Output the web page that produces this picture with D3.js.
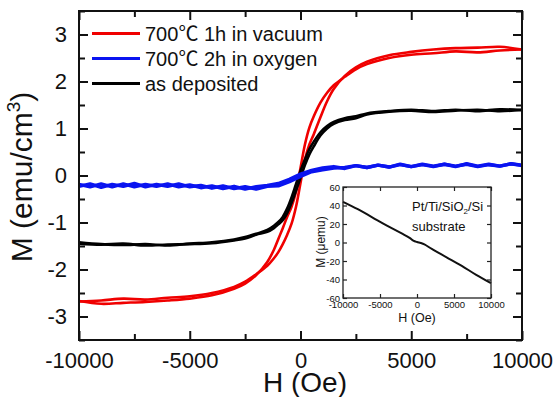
<!DOCTYPE html>
<html>
<head>
<meta charset="utf-8">
<script src="https://cdn.jsdelivr.net/npm/d3@7"></script>
<style>
  body { margin: 0; background: #fff; }
  svg { display: block; }
  text { font-family: "Liberation Sans", Arial, "Noto Sans CJK SC", sans-serif; fill: #111; }
</style>
</head>
<body>
<div id="chart"></div>
<script>
// field grid (Oe) for the loop branches
const fieldH = [-10000, -9000, -8000, -7000, -6000, -5000, -4000, -3000, -2500, -2000, -1500, -1200, -1000,
  -800, -600, -400, -200, 0, 200, 400, 600, 900, 1200, 1500, 2000, 2500, 3000, 4000, 5000, 6000, 7000, 8000, 9000, 10000];

// 700C 1h in vacuum
const vacuumUp = [-2.68, -2.66, -2.62, -2.64, -2.60, -2.57, -2.50, -2.37, -2.26, -2.10, -1.92, -1.76, -1.63,
  -1.46, -1.26, -1.02, -0.66, -0.16, 0.34, 0.66, 0.88, 1.24, 1.58, 1.84, 2.12, 2.30, 2.42, 2.56, 2.63, 2.68, 2.71, 2.72, 2.74, 2.68];
const vacuumDown = [-2.67, -2.73, -2.71, -2.69, -2.66, -2.62, -2.55, -2.41, -2.30, -2.12, -1.84, -1.58, -1.35,
  -1.12, -0.88, -0.66, -0.34, 0.16, 0.66, 1.02, 1.26, 1.55, 1.76, 1.92, 2.10, 2.26, 2.37, 2.50, 2.57, 2.60, 2.64, 2.62, 2.66, 2.68];

// as deposited
const depUp = [-1.45, -1.47, -1.45, -1.49, -1.47, -1.46, -1.44, -1.38, -1.34, -1.26, -1.20, -1.12, -1.04,
  -0.95, -0.80, -0.58, -0.32, -0.05, 0.22, 0.45, 0.62, 0.85, 1.00, 1.10, 1.18, 1.22, 1.30, 1.36, 1.38, 1.35, 1.38, 1.40, 1.37, 1.40];
const depDown = [-1.42, -1.46, -1.48, -1.46, -1.49, -1.45, -1.42, -1.36, -1.31, -1.24, -1.16, -1.07, -0.99,
  -0.88, -0.70, -0.46, -0.18, 0.10, 0.34, 0.56, 0.72, 0.92, 1.05, 1.14, 1.22, 1.26, 1.32, 1.37, 1.40, 1.37, 1.40, 1.37, 1.41, 1.39];

// 700C 2h in oxygen (500 Oe steps, noisy)
const oxyH = [-10000, -9500, -9000, -8500, -8000, -7500, -7000, -6500, -6000, -5500, -5000, -4500, -4000, -3500,
  -3000, -2500, -2000, -1500, -1000, -500, 0, 500, 1000, 1500, 2000, 2500, 3000, 3500, 4000, 4500, 5000,
  5500, 6000, 6500, 7000, 7500, 8000, 8500, 9000, 9500, 10000];
const oxyUp = [-0.23, -0.18, -0.25, -0.19, -0.23, -0.17, -0.24, -0.19, -0.23, -0.18, -0.24, -0.21, -0.27, -0.22,
  -0.28, -0.24, -0.29, -0.23, -0.22, -0.13, -0.02, 0.08, 0.12, 0.16, 0.17, 0.21, 0.17, 0.22, 0.18, 0.23, 0.19,
  0.23, 0.19, 0.24, 0.20, 0.24, 0.19, 0.23, 0.20, 0.25, 0.21];
const oxyDown = [-0.19, -0.24, -0.18, -0.24, -0.18, -0.24, -0.19, -0.23, -0.18, -0.24, -0.20, -0.26, -0.22, -0.28,
  -0.23, -0.29, -0.24, -0.21, -0.17, -0.08, 0.03, 0.11, 0.16, 0.19, 0.15, 0.21, 0.17, 0.22, 0.18, 0.24, 0.19,
  0.24, 0.20, 0.24, 0.19, 0.25, 0.20, 0.24, 0.20, 0.25, 0.22];

// inset: bare substrate
const subH = [-10000, -8000, -6000, -4000, -2000, -1000, -500, 0, 500, 1000, 2000, 4000, 6000, 8000, 10000];
const subM = [44, 36, 27, 18, 9.5, 5, 2, 0.5, -0.5, -2, -7, -16, -25, -35, -44];

const xTicks = [-10000, -5000, 0, 5000, 10000];
const xMinor = [-7500, -2500, 2500, 7500];
const yTicks = [-3, -2, -1, 0, 1, 2, 3];
const yMinor = [-3.5, -2.5, -1.5, -0.5, 0.5, 1.5, 2.5, 3.5];
const insetYTicks = [-60, -40, -20, 0, 20, 40, 60];

const legendItems = [
  { label: "700℃ 1h in vacuum", color: "#f00000" },
  { label: "700℃ 2h in oxygen", color: "#0a14f0" },
  { label: "as deposited", color: "#000" }
];

const W = 554, H = 397;
const plot = { left: 79, right: 522, top: 11, bottom: 340 };

const svg = d3.select("#chart").append("svg")
  .attr("width", W)
  .attr("height", H);

const x = d3.scaleLinear().domain([-10000, 10000]).range([plot.left, plot.right]);
const y = d3.scaleLinear().domain([-3.5, 3.5]).range([plot.bottom, plot.top]);

// curves
const smooth = d3.line()
  .x(d => x(d[0]))
  .y(d => y(d[1]))
  .curve(d3.curveCatmullRom);
const jagged = d3.line()
  .x(d => x(d[0]))
  .y(d => y(d[1]));

const series = [
  { h: fieldH, m: vacuumUp, color: "#f00000", w: 2.6, gen: smooth },
  { h: fieldH, m: vacuumDown, color: "#f00000", w: 2.6, gen: smooth },
  { h: fieldH, m: depUp, color: "#000", w: 2.6, gen: smooth },
  { h: fieldH, m: depDown, color: "#000", w: 2.6, gen: smooth },
  { h: oxyH, m: oxyUp, color: "#0a14f0", w: 3.4, gen: jagged },
  { h: oxyH, m: oxyDown, color: "#0a14f0", w: 3.4, gen: jagged }
];

svg.append("g").selectAll("path")
  .data(series)
  .join("path")
    .attr("fill", "none")
    .attr("stroke", d => d.color)
    .attr("stroke-width", d => d.w)
    .attr("stroke-linejoin", "round")
    .attr("d", d => d.gen(d.h.map((v, i) => [v, d.m[i]])));

const plain = d => String(d);

// axes, ticks inward on every side
function tickAxis(axis, pos, values, size, labels) {
  const g = svg.append("g")
    .attr("transform", pos)
    .call(axis.tickValues(values).tickSizeInner(-size).tickSizeOuter(0)
      .tickPadding(12)
      .tickFormat(labels ? plain : ""));
  g.select(".domain").remove();
  g.selectAll("line").attr("stroke", "#111").attr("stroke-width", 2);
  g.selectAll("text").attr("font-size", 22).attr("fill", "#111")
    .style("font-family", "'Liberation Sans', Arial, sans-serif");
  return g;
}

tickAxis(d3.axisBottom(x), `translate(0,${plot.bottom})`, xTicks, 9, true);
tickAxis(d3.axisBottom(x), `translate(0,${plot.bottom})`, xMinor, 6, false);
tickAxis(d3.axisTop(x), `translate(0,${plot.top})`, xTicks, 9, false);
tickAxis(d3.axisTop(x), `translate(0,${plot.top})`, xMinor, 6, false);
tickAxis(d3.axisLeft(y), `translate(${plot.left},0)`, yTicks, 9, true);
tickAxis(d3.axisLeft(y), `translate(${plot.left},0)`, yMinor, 6, false);
tickAxis(d3.axisRight(y), `translate(${plot.right},0)`, yTicks, 9, false);
tickAxis(d3.axisRight(y), `translate(${plot.right},0)`, yMinor, 6, false);

svg.append("rect")
  .attr("x", plot.left).attr("y", plot.top)
  .attr("width", plot.right - plot.left).attr("height", plot.bottom - plot.top)
  .attr("fill", "none").attr("stroke", "#111").attr("stroke-width", 2);

// axis titles
svg.append("text")
  .attr("x", 305).attr("y", 392)
  .attr("text-anchor", "middle")
  .attr("font-size", 28)
  .text("H (Oe)");

const yTitle = svg.append("text")
  .attr("transform", "translate(32,177) rotate(-90)")
  .attr("text-anchor", "middle")
  .attr("font-size", 30);
yTitle.append("tspan").text("M (emu/cm");
yTitle.append("tspan").attr("font-size", 19).attr("dy", -12).text("3");
yTitle.append("tspan").attr("dy", 12).text(")");

// legend
const legend = svg.append("g").selectAll("g")
  .data(legendItems)
  .join("g")
    .attr("transform", (d, i) => `translate(92,${33.5 + i * 25})`);
legend.append("line")
  .attr("x1", 0).attr("x2", 48)
  .attr("stroke", d => d.color).attr("stroke-width", 3);
const legendText = legend.append("text")
  .attr("x", 53).attr("dy", "0.36em")
  .attr("font-size", 20);
legendText.each(function (d) {
  const parts = d.label.split("℃");
  const t = d3.select(this);
  t.append("tspan").text(parts[0]);
  if (parts.length > 1) {
    t.append("tspan").style("font-family", "'Noto Sans CJK SC'").text("℃");
    t.append("tspan").text(parts[1]);
  }
});

// inset
const inset = { left: 343, right: 491, top: 187, bottom: 298 };
const ix = d3.scaleLinear().domain([-10000, 10000]).range([inset.left, inset.right]);
const iy = d3.scaleLinear().domain([-60, 60]).range([inset.bottom, inset.top]);

svg.append("rect")
  .attr("x", inset.left).attr("y", inset.top)
  .attr("width", inset.right - inset.left).attr("height", inset.bottom - inset.top)
  .attr("fill", "#fff");

function insetAxis(axis, pos, values, labels) {
  const g = svg.append("g")
    .attr("transform", pos)
    .call(axis.tickValues(values).tickSizeInner(-4).tickSizeOuter(0)
      .tickPadding(3)
      .tickFormat(labels ? plain : ""));
  g.select(".domain").remove();
  g.selectAll("line").attr("stroke", "#222").attr("stroke-width", 1.2);
  g.selectAll("text").attr("font-size", 9.5).attr("fill", "#222")
    .style("font-family", "'Liberation Sans', Arial, sans-serif");
}

insetAxis(d3.axisBottom(ix), `translate(0,${inset.bottom})`, xTicks, true);
insetAxis(d3.axisTop(ix), `translate(0,${inset.top})`, xTicks, false);
insetAxis(d3.axisLeft(iy), `translate(${inset.left},0)`, insetYTicks, true);
insetAxis(d3.axisRight(iy), `translate(${inset.right},0)`, insetYTicks, false);

const iline = d3.line().x(d => ix(d[0])).y(d => iy(d[1])).curve(d3.curveCatmullRom);
svg.append("path")
  .attr("fill", "none").attr("stroke", "#111").attr("stroke-width", 2)
  .attr("d", iline(subH.map((v, i) => [v, subM[i]])));

svg.append("rect")
  .attr("x", inset.left).attr("y", inset.top)
  .attr("width", inset.right - inset.left).attr("height", inset.bottom - inset.top)
  .attr("fill", "none").attr("stroke", "#222").attr("stroke-width", 1.3);

svg.append("text")
  .attr("x", 417).attr("y", 322)
  .attr("text-anchor", "middle")
  .attr("font-size", 12.5)
  .text("H (Oe)");

svg.append("text")
  .attr("transform", "translate(325,242) rotate(-90)")
  .attr("text-anchor", "middle")
  .attr("font-size", 12)
  .text("M (μemu)");

const sub = svg.append("text")
  .attr("x", 412).attr("y", 211)
  .attr("font-size", 13);
sub.append("tspan").text("Pt/Ti/SiO");
sub.append("tspan").attr("font-size", 8).attr("dy", 3).text("2");
sub.append("tspan").attr("dy", -3).text("/Si");

svg.append("text")
  .attr("x", 412).attr("y", 231)
  .attr("font-size", 13)
  .text("substrate");
</script>
</body>
</html>
